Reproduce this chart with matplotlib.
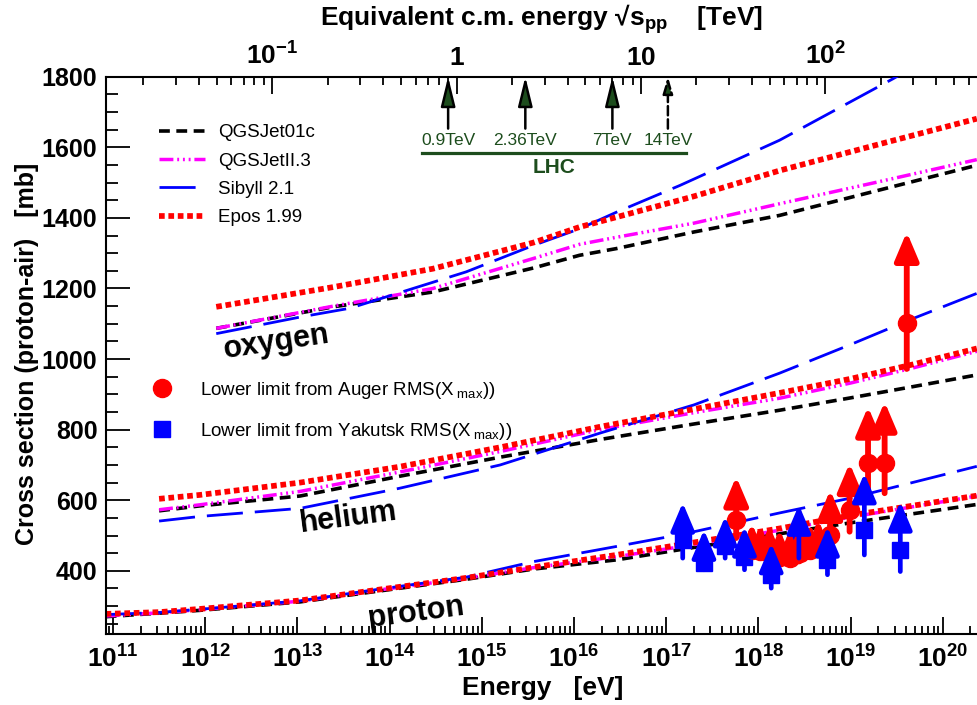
import numpy as np
import matplotlib.pyplot as plt
from matplotlib.ticker import (FixedLocator, FixedFormatter, LogLocator,
                               MultipleLocator, NullFormatter)

plt.rcParams['font.family'] = ['Liberation Sans', 'DejaVu Sans']
plt.rcParams['mathtext.fontset'] = 'custom'
plt.rcParams['mathtext.rm'] = 'Liberation Sans'
plt.rcParams['mathtext.bf'] = 'Liberation Sans:bold'
plt.rcParams['mathtext.it'] = 'Liberation Sans:italic'

# ---- model curves, log10(E/eV) vs sigma [mb] ----
p_logE = [10.92, 11.5, 11.94, 13.03, 13.75, 14.83, 15.56, 16.46, 17.2, 18.23, 19.0, 20.37]
p_qgs01 = [270, 280, 288, 312, 338, 376, 405, 431, 462, 505, 536, 588]
p_qgsII = [272, 281, 290, 314, 341, 379, 409, 440, 470, 515, 552, 612]
p_sibyll = [276, 282, 291, 315, 343, 382, 426, 469, 505, 564, 606, 696]
p_epos = [278, 283, 292, 316, 342, 380, 410, 445, 476, 520, 557, 613]

he_logE = [11.5, 11.94, 13.03, 14.11, 15.2, 16.28, 17.3, 18.23, 19.0, 19.68, 20.37]
he_qgs01 = [570, 584, 612, 668, 722, 772, 816, 855, 890, 922, 955]
he_qgsII = [573, 587, 625, 680, 738, 800, 848, 889, 932, 975, 1022]
he_sibyll = [541, 554, 577, 634, 700, 790, 870, 960, 1041, 1115, 1186]
he_epos = [604, 615, 650, 695, 750, 808, 858, 904, 944, 985, 1030]

o_logE = [12.12, 13.39, 14.47, 15.56, 16.06, 16.46, 17.3, 18.23, 19.3, 20.37]
o_qgs01 = [1087, 1148, 1190, 1258, 1294, 1313, 1360, 1407, 1478, 1549]
o_qgsII = [1087, 1150, 1200, 1285, 1325, 1345, 1385, 1440, 1502, 1565]
o_epos = [1148, 1204, 1256, 1330, 1374, 1402, 1461, 1534, 1608, 1681]
o_sib_logE = [12.12, 13.03, 13.57, 14.83, 15.56, 16.06, 16.46, 17.15, 18.23, 19.46, 19.6]
o_sibyll = [1072, 1119, 1144, 1247, 1322, 1369, 1416, 1492, 1620, 1794, 1815]

# ---- lower limits (value, lower end of error bar, arrow tip) ----
auger_logE = [17.76, 17.93, 18.02, 18.12, 18.23, 18.34, 18.45, 18.56, 18.65,
              18.78, 18.99, 19.19, 19.37, 19.61]
auger_val = [544, 459, 455, 450, 440, 436, 450, 459, 469, 502, 573, 705, 705, 1102]
auger_low = [493, 440, 436, 430, 420, 418, 432, 440, 450, 469, 511, 630, 620, 972]
auger_tip = [667, 535, 530, 528, 518, 515, 528, 535, 545, 629, 705, 865, 879, 1360]

yak_logE = [17.18, 17.41, 17.64, 17.85, 18.14, 18.44, 18.75, 19.15, 19.54]
yak_val = [488, 422, 469, 440, 389, 483, 431, 516, 459]
yak_low = [436, 403, 436, 403, 351, 436, 389, 445, 398]
yak_tip = [593, 516, 554, 525, 478, 587, 525, 676, 596]

# ---- LHC energies ----
lhc_sqrts = [0.9, 2.36, 7.0, 14.0]
lhc_labels = ['0.9TeV', '2.36TeV', '7TeV', '14TeV']

x_decades = list(range(11, 21))
top_ticks = [0.1, 1, 10, 100]
top_labels = [r'$\mathbf{10^{-1}}$', r'$\mathbf{1}$', r'$\mathbf{10}$', r'$\mathbf{10^{2}}$']

M2 = 2 * 0.938e9  # 2 m_p [eV]


def e_to_sqrts(e):
    return np.sqrt(M2 * np.maximum(e, 1e-30)) / 1e12


def sqrts_to_e(s):
    return (np.asarray(s) * 1e12) ** 2 / M2


fig = plt.figure(figsize=(9.77, 7.05), dpi=100)
ax = fig.add_axes([0.1082, 0.1007, 0.8918, 0.7905])
ax.set_xscale('log')
ax.set_xlim(10 ** 10.921, 10 ** 20.372)
ax.set_ylim(221, 1800)

models = [
    ('QGSJet01c', p_qgs01, he_qgs01, o_qgs01, None,
     dict(color='black', lw=2.6, ls=(0, (3.0, 1.8)))),
    ('QGSJetII.3', p_qgsII, he_qgsII, o_qgsII, None,
     dict(color='magenta', lw=2.5, ls=(0, (4.0, 1.1, 0.55, 1.1, 0.55, 1.1, 0.55, 1.1)))),
    ('Sibyll 2.1', p_sibyll, he_sibyll, o_sibyll, o_sib_logE,
     dict(color='blue', lw=2.0, ls=(0, (13, 4.3)))),
    ('Epos 1.99', p_epos, he_epos, o_epos, None,
     dict(color='red', lw=4.1, ls=(0, (1, 0.65)))),
]

handles = []
for name, p, he, ox, ox_logE, st in models:
    h, = ax.plot(10.0 ** np.array(p_logE), p, label=name, **st)
    ax.plot(10.0 ** np.array(he_logE), he, **st)
    ol = o_logE if ox_logE is None else ox_logE
    ax.plot(10.0 ** np.array(ol), ox, **st)
    handles.append(h)


def draw_limits(logE, val, low, tip, color, marker, ms, lw):
    E = 10.0 ** np.array(logE)
    for e, lo, t in zip(E, low, tip):
        ax.annotate('', xy=(e, t), xytext=(e, lo),
                    arrowprops=dict(arrowstyle='-|>,head_length=0.85,head_width=0.36',
                                    color=color, lw=lw, mutation_scale=20,
                                    shrinkA=0, shrinkB=0))
    return ax.plot(E, val, ls='none', marker=marker, ms=ms, color=color)[0]


h_auger = draw_limits(auger_logE, auger_val, auger_low, auger_tip, 'red', 'o', 13, 4.2)
h_yak = draw_limits(yak_logE, yak_val, yak_low, yak_tip, 'blue', 's', 11.5, 3.4)

# curve labels
ax.text(10 ** 12.77, 1047, 'oxygen', fontsize=22, fontweight='bold',
        rotation=8.5, ha='center', va='center')
ax.text(10 ** 13.55, 552, 'helium', fontsize=22, fontweight='bold',
        rotation=7.5, ha='center', va='center')
ax.text(10 ** 14.29, 280, 'proton', fontsize=22, fontweight='bold',
        rotation=7.5, ha='center', va='center')

# LHC annotation
green = '#1d4d1d'
lhc_E = sqrts_to_e(lhc_sqrts)
for i, (e, lab) in enumerate(zip(lhc_E, lhc_labels)):
    dashed = i == len(lhc_E) - 1
    ax.annotate('', xy=(e, 1800), xytext=(e, 1653), annotation_clip=False,
                arrowprops=dict(arrowstyle='-|>,head_length=0.9,head_width=0.22'
                                if not dashed else
                                '-|>,head_length=0.5,head_width=0.15',
                                fc=green, ec='black', lw=1.8,
                                ls='--' if dashed else '-',
                                mutation_scale=20, shrinkA=0, shrinkB=0))
    ax.text(e, 1619, lab, color=green, fontsize=12.5, ha='center', va='center')
ax.plot([10 ** 14.35, 10 ** 17.22], [1583, 1583], color=green, lw=2.3)
ax.text(10 ** 15.78, 1543, 'LHC', color=green, fontsize=15, fontweight='bold',
        ha='center', va='center')

# axes styling
for s in ['left', 'bottom', 'top']:
    ax.spines[s].set_linewidth(1.5)
ax.spines['right'].set_visible(False)
ax.spines['top'].set_visible(False)

ax.yaxis.set_major_locator(MultipleLocator(200))
ax.yaxis.set_minor_locator(MultipleLocator(50))
ax.xaxis.set_major_locator(FixedLocator([10.0 ** k for k in x_decades]))
ax.xaxis.set_major_formatter(FixedFormatter([r'$\mathbf{10^{%d}}$' % k for k in x_decades]))
ax.xaxis.set_minor_locator(LogLocator(base=10, subs=np.arange(2, 10), numticks=20))
ax.xaxis.set_minor_formatter(NullFormatter())
ax.tick_params(axis='y', which='major', direction='in', length=17, width=1.3,
               labelsize=18, pad=6, right=False)
ax.tick_params(axis='y', which='minor', direction='in', length=8.5, width=1.3, right=False)
ax.tick_params(axis='x', which='major', direction='in', length=12, width=1.3,
               labelsize=19, pad=8, top=False)
ax.tick_params(axis='x', which='minor', direction='in', length=6, width=1.3, top=False)
for lab in ax.get_yticklabels():
    lab.set_fontweight('bold')

sec = ax.secondary_xaxis('top', functions=(e_to_sqrts, sqrts_to_e))
sec.spines['top'].set_linewidth(1.5)
sec.xaxis.set_major_locator(FixedLocator(top_ticks))
sec.xaxis.set_major_formatter(FixedFormatter(top_labels))
sec.xaxis.set_minor_locator(LogLocator(base=10, subs=np.arange(2, 10), numticks=20))
sec.xaxis.set_minor_formatter(NullFormatter())
sec.tick_params(which='major', direction='in', length=12, width=1.3, labelsize=19, pad=5)
sec.tick_params(which='minor', direction='in', length=6, width=1.3)

# titles
fig.text(541 / 977, 1 - 19 / 705, r'Equivalent c.m. energy √$\mathbf{s_{pp}}$    [TeV]',
         fontsize=19, fontweight='bold', ha='center', va='center')
fig.text(543 / 977, 1 - 688 / 705, 'Energy   [eV]', fontsize=19, fontweight='bold',
         ha='center', va='center')
fig.text(27 / 977, 1 - 354 / 705, 'Cross section (proton-air)   [mb]', fontsize=18,
         fontweight='bold', rotation=90, ha='center', va='center')

# legends
leg1 = ax.legend(handles=handles, loc='upper left', frameon=False, fontsize=13.5,
                 bbox_to_anchor=(159 / 977, 1 - 124 / 705), bbox_transform=fig.transFigure,
                 borderaxespad=0, borderpad=0, handlelength=2.45, handletextpad=0.68,
                 labelspacing=0.6)
ax.add_artist(leg1)
ax.legend([h_auger, h_yak],
          [r'Lower limit from Auger RMS(X$_{\rm \ max}$))',
           r'Lower limit from Yakutsk RMS(X$_{\rm \ max}$))'],
          loc='upper left', frameon=False, fontsize=13.5,
          bbox_to_anchor=(153 / 977, 1 - 380 / 705), bbox_transform=fig.transFigure,
          borderaxespad=0, borderpad=0, handlelength=1.0, handletextpad=1.5,
          labelspacing=1.05)

fig.savefig('out.png', dpi=100)
